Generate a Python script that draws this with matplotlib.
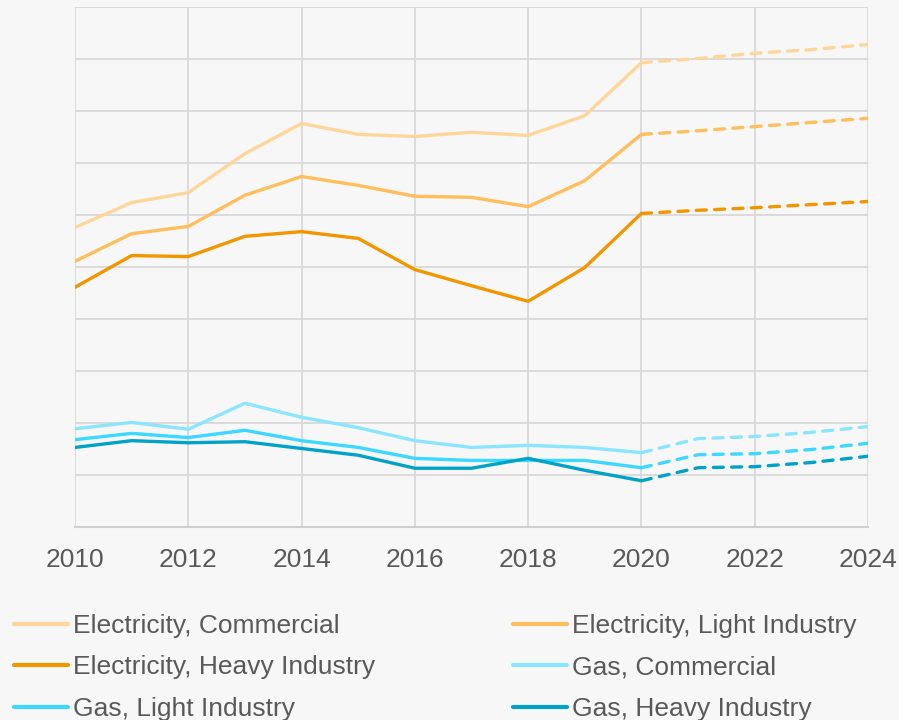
import matplotlib
matplotlib.use("Agg")
import matplotlib.pyplot as plt
from matplotlib.lines import Line2D

plt.rcParams['font.family'] = ['Liberation Sans', 'DejaVu Sans']

years = [2010, 2011, 2012, 2013, 2014, 2015, 2016, 2017, 2018, 2019, 2020, 2021, 2022, 2023, 2024]
forecast_start = 2020
tick_years = [2010, 2012, 2014, 2016, 2018, 2020, 2022, 2024]

series_names = ["Electricity, Commercial", "Electricity, Light Industry", "Electricity, Heavy Industry",
                "Gas, Commercial", "Gas, Light Industry", "Gas, Heavy Industry"]

elec_commercial = [5.76, 6.24, 6.43, 7.18, 7.76, 7.55, 7.51, 7.59, 7.53, 7.91, 8.93, 9.01, 9.11, 9.18, 9.28]
elec_light = [5.11, 5.64, 5.78, 6.38, 6.74, 6.57, 6.36, 6.34, 6.16, 6.66, 7.55, 7.62, 7.70, 7.78, 7.86]
elec_heavy = [4.61, 5.22, 5.20, 5.59, 5.68, 5.55, 4.95, 4.64, 4.34, 4.99, 6.03, 6.09, 6.14, 6.20, 6.26]
gas_commercial = [1.89, 2.01, 1.88, 2.38, 2.11, 1.91, 1.66, 1.53, 1.57, 1.53, 1.43, 1.70, 1.74, 1.82, 1.93]
gas_light = [1.68, 1.80, 1.72, 1.86, 1.66, 1.53, 1.32, 1.28, 1.28, 1.28, 1.14, 1.39, 1.41, 1.49, 1.61]
gas_heavy = [1.53, 1.66, 1.62, 1.64, 1.51, 1.38, 1.13, 1.13, 1.32, 1.09, 0.89, 1.14, 1.16, 1.24, 1.36]

all_series = [elec_commercial, elec_light, elec_heavy, gas_commercial, gas_light, gas_heavy]
colors = ["#FFD699", "#FFBE5C", "#F29600", "#8AE6FF", "#3DD8FF", "#00A3C7"]

bg = "#F7F7F7"
grid_c = "#D9D9D9"
text_c = "#595959"

fig = plt.figure(figsize=(8.99, 7.2), dpi=100, facecolor=bg)
ax = fig.add_axes([75/899, 1 - 527/720, (868-75)/899, (527-7)/720])
ax.set_facecolor(bg)

lw = 2.4
idx = years.index(forecast_start)
for vals, c in zip(all_series, colors):
    ax.plot(years[:idx+1], vals[:idx+1], color=c, lw=lw, solid_capstyle='round', solid_joinstyle='round', zorder=3)
    ax.plot(years[idx:], vals[idx:], color=c, lw=lw, linestyle=(0, (3.0, 2.5)), dash_capstyle='round', zorder=3)

ax.set_xlim(2010, 2024)
ax.set_ylim(0, 10)
ax.set_xticks(tick_years)
ax.set_xticklabels([str(y) for y in tick_years])
ax.set_yticks(range(0, 11))
ax.yaxis.set_ticklabels([])
ax.tick_params(axis='both', length=0)
ax.tick_params(axis='x', labelsize=19, colors=text_c, pad=15)
ax.grid(True, color=grid_c, lw=1.3, zorder=0)
for s in ax.spines.values():
    s.set_visible(False)
ax.spines['bottom'].set_visible(True)
ax.spines['bottom'].set_color("#CFCFCF")
ax.spines['bottom'].set_linewidth(1.5)

handles = [Line2D([], [], color=c, lw=3, solid_capstyle='round') for c in colors]
left_idx = [0, 2, 4]
right_idx = [1, 3, 5]
common = dict(frameon=False, fontsize=19, labelcolor=text_c, handlelength=2.05, handletextpad=0.2,
              labelspacing=0.66, borderaxespad=0, borderpad=0)
leg1 = fig.legend([handles[i] for i in left_idx], [series_names[i] for i in left_idx],
                  loc='upper left', bbox_to_anchor=(14/899, 1 - 614/720), **common)
leg2 = fig.legend([handles[i] for i in right_idx], [series_names[i] for i in right_idx],
                  loc='upper left', bbox_to_anchor=(513/899, 1 - 614/720), **common)

fig.savefig("out.png", dpi=100, facecolor=bg)
